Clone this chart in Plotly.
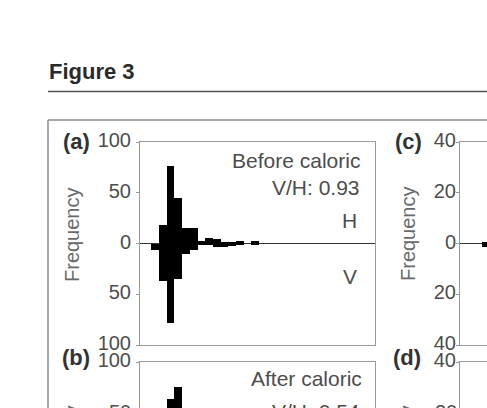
import plotly.graph_objects as go

# ---------------- data ----------------
bins_a = list(range(14))
h_a = [0, 18, 76, 45, 15, 15, 2, 5, 4, 1, 1, 2, 0, 2]
v_a = [6, 37, 78, 35, 10, 6, 1, 1, 3, 3, 2, 1, 0, 1]

bins_b = [2, 3]
h_b = [64, 75]

bins_c = [1]
h_c = [0.6]
v_c = [1.2]

ticks_a = [-100, -50, 0, 50, 100]
ticktext_a = ["100", "50", "0", "50", "100"]
ticks_c = [-40, -20, 0, 20, 40]
ticktext_c = ["40", "20", "0", "20", "40"]

W, H = 487, 408
FONT = "Liberation Sans, Arial, Helvetica, sans-serif"


def px(x):
    return x / W


def py(y):
    return 1 - y / H


BOX = "#9a9a9a"
TXT = "#4d4d4d"

fig = go.Figure()
bar_style = dict(width=1, marker_color="black", marker_line_width=0, showlegend=False)
fig.add_trace(go.Bar(x=bins_a, y=h_a, xaxis="x", yaxis="y", **bar_style))
fig.add_trace(go.Bar(x=bins_a, y=[-v for v in v_a], xaxis="x", yaxis="y", **bar_style))
fig.add_trace(go.Bar(x=bins_c, y=h_c, xaxis="x2", yaxis="y2", **bar_style))
fig.add_trace(go.Bar(x=bins_c, y=[-v for v in v_c], xaxis="x2", yaxis="y2", **bar_style))
fig.add_trace(go.Bar(x=bins_b, y=h_b, xaxis="x3", yaxis="y3", **bar_style))
# panel (d): its bars lie below the visible part of the picture
fig.add_trace(go.Bar(x=[1], y=[0], xaxis="x4", yaxis="y4", **bar_style))

xcommon = dict(showticklabels=False, ticks="", showgrid=False, zeroline=False,
               showline=True, linecolor=BOX, linewidth=1)
ycommon = dict(showgrid=False, showline=True, linecolor=BOX, linewidth=1,
               ticks="outside", ticklen=3, tickcolor=BOX,
               tickfont=dict(family=FONT, size=20, color=TXT),
               ticklabelshift=-2, ticklabeloverflow="allow")

xr_a = [-1.967, 28.55]
xr_c = [-2.357, 1.149]

fig.update_layout(
    width=W, height=H,
    margin=dict(l=0, r=0, t=0, b=0, pad=0, autoexpand=False),
    paper_bgcolor="white", plot_bgcolor="white",
    barmode="relative", bargap=0,
    showlegend=False,
    xaxis=dict(domain=[px(140), px(375)], range=xr_a, mirror=True, anchor="y", **xcommon),
    yaxis=dict(domain=[py(345), py(142)], range=[-100, 100], tickvals=ticks_a, ticktext=ticktext_a,
               mirror=True, zeroline=True, zerolinecolor="#333333", zerolinewidth=1,
               anchor="x", ticklabelstandoff=1, **ycommon),
    xaxis2=dict(domain=[px(460), 1], range=xr_c, mirror=True, anchor="y2", **xcommon),
    yaxis2=dict(domain=[py(345), py(142)], range=[-40, 40], tickvals=ticks_c, ticktext=ticktext_c,
                mirror=False, zeroline=True, zerolinecolor="#333333", zerolinewidth=1,
                anchor="x2", ticklabelstandoff=-4, **ycommon),
    xaxis3=dict(domain=[px(140), px(375)], range=xr_a, side="top", mirror=False, anchor="y3", **xcommon),
    yaxis3=dict(domain=[0, py(362)], range=[100 - 46 / 1.015, 100.0005], tickvals=[100], ticktext=["100"],
                mirror=True, zeroline=False, anchor="x3", ticklabelstandoff=1, **ycommon),
    xaxis4=dict(domain=[px(460), 1], range=xr_c, side="top", mirror=False, anchor="y4", **xcommon),
    yaxis4=dict(domain=[0, py(362)], range=[40 - 46 / 2.5375, 40.0005], tickvals=[40], ticktext=["40"],
                mirror=False, zeroline=False, anchor="x4", ticklabelstandoff=-4, **ycommon),
)

anns = []


def ann(text, x, y, xanchor="center", size=20, color=TXT, angle=0):
    anns.append(dict(text=text, x=px(x), y=py(y), xref="paper", yref="paper",
                     xanchor=xanchor, yanchor="middle", showarrow=False, textangle=angle,
                     font=dict(family=FONT, size=size, color=color)))


ann("<b>Figure 3</b>", 47, 71, "left", 22, "#2a2a2a")
ann("<b>(a)</b>", 92, 141, "right", 22, "#333333")
ann("<b>(b)</b>", 92, 357, "right", 22, "#333333")
ann("<b>(c)</b>", 424, 141, "right", 22, "#333333")
ann("<b>(d)</b>", 423, 357, "right", 22, "#333333")
ann("Frequency", 72, 235, "center", 20, "#6a6a6a", -90)
ann("Frequency", 408, 234, "center", 20, "#6a6a6a", -90)
ann("Frequency", 72, 453, "center", 20, "#6a6a6a", -90)
ann("Frequency", 407, 453, "center", 20, "#6a6a6a", -90)
ann("Before caloric", 362, 161, "right", 21)
ann("V/H: 0.93", 362, 188, "right", 21)
ann("H", 359, 221, "right", 21)
ann("V", 359, 276, "right", 21)
ann("After caloric", 364, 378, "right", 21)
ann("V/H: 0.54", 362, 411, "right", 21)
ann("50", 133, 412, "right", 20)
ann("20", 459, 412, "right", 20)

fig.update_layout(annotations=anns)

fig.update_layout(shapes=[
    dict(type="line", xref="paper", yref="paper", x0=px(48), x1=1.05, y0=py(91.5), y1=py(91.5),
         line=dict(color="#555555", width=1.5)),
    dict(type="line", xref="paper", yref="paper", x0=px(48), x1=1.05, y0=py(120), y1=py(120),
         line=dict(color="#8a8a8a", width=1.5)),
    dict(type="line", xref="paper", yref="paper", x0=px(48), x1=px(48), y0=py(120), y1=-0.1,
         line=dict(color="#8a8a8a", width=1.5)),
])

fig.write_html("out.html")
